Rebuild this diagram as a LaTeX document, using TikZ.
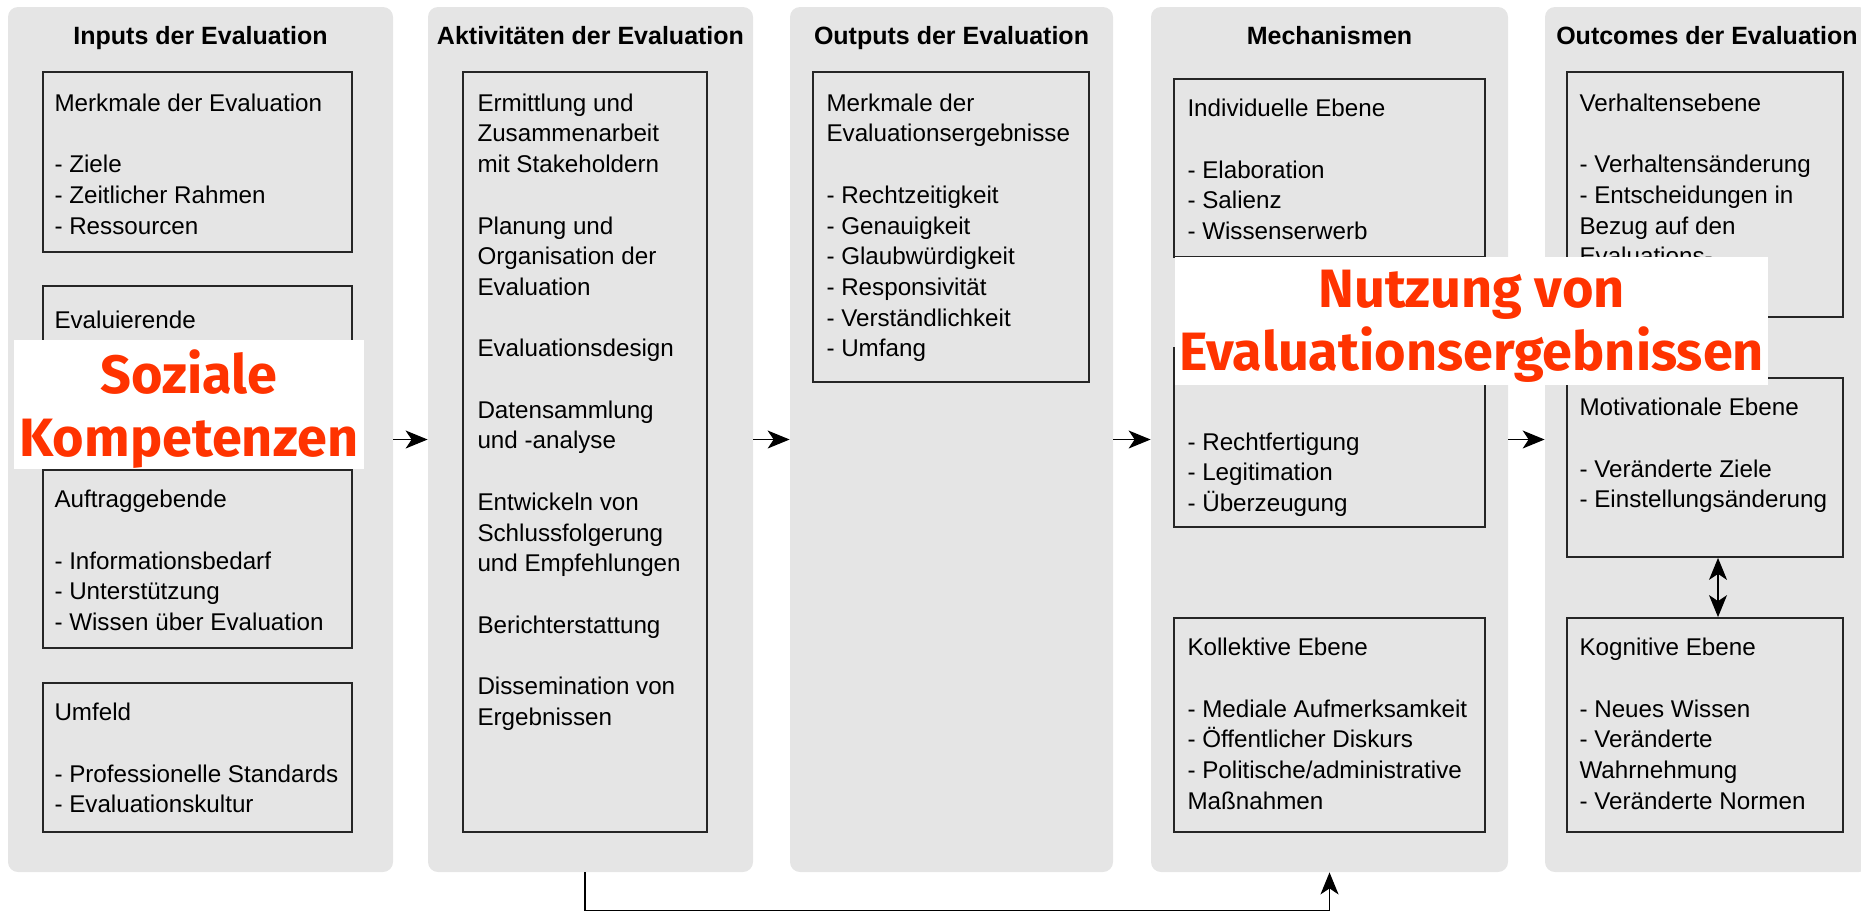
\documentclass[tikz,border=0pt]{standalone}
\usepackage{fontspec}
\setmainfont{Liberation Sans}
\newfontfamily\ovfont{Fira Sans}
\usetikzlibrary{arrows.meta}
\definecolor{panelgray}{RGB}{229,229,229}
\definecolor{ovred}{RGB}{255,51,0}

\tikzset{
  panel/.style={fill=panelgray, rounded corners=5pt, inner sep=0pt, minimum height=432.5pt},
  ebox/.style={draw=black!85, line width=0.9pt, inner sep=0pt},
  txt/.style={anchor=north west, inner sep=0pt, align=left, yshift=-2.8pt,
    font=\fontsize{12.1}{15.35}\selectfont, execute at begin node=\strut},
  ptitle/.style={anchor=base, inner sep=0pt, font=\fontsize{12.5}{15}\selectfont\bfseries},
  flow/.style={-{Stealth[length=11pt,width=9pt,inset=3pt]}, line width=0.6pt},
  both/.style={{Stealth[length=11pt,width=9pt,inset=3pt]}-{Stealth[length=11pt,width=9pt,inset=3pt]}, line width=0.6pt},
  ovbox/.style={fill=white, inner sep=0pt},
  ovtxt/.style={anchor=north, inner sep=0pt, align=center, text=ovred,
    font=\ovfont\bfseries\fontsize{27}{31.5}\selectfont, execute at begin node=\strut},
}

\begin{document}
\begin{tikzpicture}[x=0.5pt,y=-0.5pt]
  \useasboundingbox (0,0) rectangle (1861,911);

  % columns
  \node[panel, minimum width=192.5pt] (p1) at (200.5,439.5) {};
  \node[panel, minimum width=162.5pt] (p2) at (590.5,439.5) {};
  \node[panel, minimum width=161.5pt] (p3) at (951.5,439.5) {};
  \node[panel, minimum width=178.5pt] (p4) at (1329.5,439.5) {};
  \node[panel, minimum width=162pt]   (p5) at (1707,439.5) {};

  \node[ptitle] (t1) at ([yshift=-19pt]p1.north) {Inputs der Evaluation};
  \node[ptitle] (t2) at ([yshift=-19pt]p2.north) {Aktivitäten der Evaluation};
  \node[ptitle] (t3) at ([yshift=-19pt]p3.north) {Outputs der Evaluation};
  \node[ptitle] (t4) at ([yshift=-19pt]p4.north) {Mechanismen};
  \node[ptitle] (t5) at ([yshift=-19pt]p5.north) {Outcomes der Evaluation};

  % inputs
  \node[ebox, minimum width=154.5pt, minimum height=90pt]   (b11) at (197.5,162) {};
  \node[ebox, minimum width=154.5pt, minimum height=74.5pt] (b12) at (197.5,360.5) {};
  \node[ebox, minimum width=154.5pt, minimum height=89pt]   (b13) at (197.5,559) {};
  \node[ebox, minimum width=154.5pt, minimum height=74.5pt] (b14) at (197.5,757.5) {};
  \node[txt] at ([xshift=6pt,yshift=-8.3pt]b11.north west)
    {Merkmale der Evaluation\\[15.35pt]- Ziele\\- Zeitlicher Rahmen\\- Ressourcen};
  \node[txt] at ([xshift=6pt,yshift=-8pt]b12.north west) {Evaluierende};
  \node[txt] at ([xshift=6pt,yshift=-7.5pt]b13.north west)
    {Auftraggebende\\[15.35pt]- Informationsbedarf\\- Unterstützung\\- Wissen über Evaluation};
  \node[txt] at ([xshift=6pt,yshift=-7.5pt]b14.north west)
    {Umfeld\\[15.35pt]- Professionelle Standards\\- Evaluationskultur};

  % activities
  \node[ebox, minimum width=122pt, minimum height=380pt] (b21) at (585,452) {};
  \node[txt] at ([xshift=7.5pt,yshift=-8.3pt]b21.north west)
    {Ermittlung und\\Zusammenarbeit\\mit Stakeholdern\\[15.35pt]Planung und\\Organisation der\\Evaluation\\[15.35pt]Evaluationsdesign\\[15.35pt]Datensammlung\\und -analyse\\[15.35pt]Entwickeln von\\Schlussfolgerung\\und Empfehlungen\\[15.35pt]Berichterstattung\\[15.35pt]Dissemination von\\Ergebnissen};

  % outputs
  \node[ebox, minimum width=138pt, minimum height=155pt] (b31) at (951,227) {};
  \node[txt] at ([xshift=7pt,yshift=-8.3pt]b31.north west)
    {Merkmale der\\Evaluationsergebnisse\\[15.35pt]- Rechtzeitigkeit\\- Genauigkeit\\- Glaubwürdigkeit\\- Responsivität\\- Verständlichkeit\\- Umfang};

  % mechanisms
  \node[ebox, minimum width=155.5pt, minimum height=89pt]  (b41) at (1329.5,168) {};
  \node[ebox, minimum width=155.5pt, minimum height=89.5pt] (b42) at (1329.5,437.5) {};
  \node[ebox, minimum width=155.5pt, minimum height=107pt] (b43) at (1329.5,725) {};
  \node[txt] at ([xshift=7pt,yshift=-7.5pt]b41.north west)
    {Individuelle Ebene\\[15.35pt]- Elaboration\\- Salienz\\- Wissenserwerb};
  \node[txt] at ([xshift=7pt,yshift=-39.7pt]b42.north west)
    {- Rechtfertigung\\- Legitimation\\- Überzeugung};
  \node[txt] at ([xshift=7pt,yshift=-7.5pt]b43.north west)
    {Kollektive Ebene\\[15.35pt]- Mediale Aufmerksamkeit\\- Öffentlicher Diskurs\\- Politische/administrative\\Maßnahmen};

  % outcomes
  \node[ebox, minimum width=138pt, minimum height=122.5pt] (b51) at (1705,194.5) {};
  \node[ebox, minimum width=138pt, minimum height=89.5pt]  (b52) at (1705,467.5) {};
  \node[ebox, minimum width=138pt, minimum height=107pt]   (b53) at (1705,725) {};
  \node[txt] at ([xshift=6.5pt,yshift=-8.3pt]b51.north west)
    {Verhaltensebene\\[15.35pt]- Verhaltensänderung\\- Entscheidungen in\\Bezug auf den\\Evaluations-};
  \node[txt] at ([xshift=6.5pt,yshift=-7.5pt]b52.north west)
    {Motivationale Ebene\\[15.35pt]- Veränderte Ziele\\- Einstellungsänderung};
  \node[txt] at ([xshift=6.5pt,yshift=-7.5pt]b53.north west)
    {Kognitive Ebene\\[15.35pt]- Neues Wissen\\- Veränderte\\Wahrnehmung\\- Veränderte Normen};

  % connectors
  \foreach \from/\to in {p1/p2,p2/p3,p3/p4,p4/p5}
    \draw[flow] (\from) -- (\to);
  \draw[both] ([xshift=6.5pt]b52.south) -- ([xshift=6.5pt]b53.north);
  \draw[flow] (b21.south |- p2.south) -- ++(0,38) -| (p4.south);

  % red labels on top
  \node[ovbox, minimum width=175pt, minimum height=64.5pt] (ov1) at (189,404.5) {};
  \node[ovtxt] at (189,349) {Soziale\\Kompetenzen};
  \node[ovbox, minimum width=296.5pt, minimum height=64pt] (ov2) at (1471.5,321) {};
  \node[ovtxt] at (1471.5,270) {Nutzung von\\Evaluationsergebnissen};
\end{tikzpicture}
\end{document}
